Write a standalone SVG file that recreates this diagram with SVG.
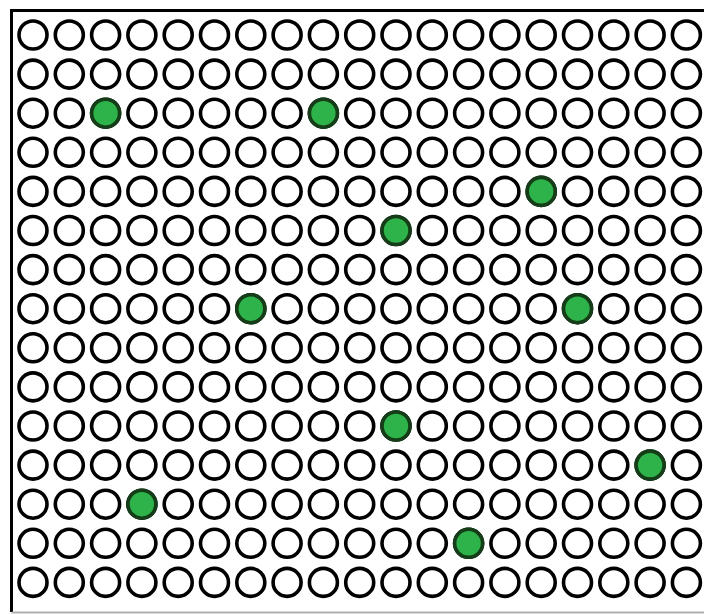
<svg xmlns="http://www.w3.org/2000/svg" xmlns:xlink="http://www.w3.org/1999/xlink" width="704" height="614" viewBox="0 0 704 614">
<style>
.w{fill:#fff;stroke:#000;stroke-width:3.6}
.g{fill:#2db34a;stroke:#143d18;stroke-width:3.6}
</style>
<defs>
<circle id="c" class="w" cx="0" cy="0" r="14"/>
<circle id="k" class="g" cx="0" cy="0" r="14"/>
<g id="row">
<use href="#c" x="33"/><use href="#c" x="69.3"/><use href="#c" x="105.6"/><use href="#c" x="141.9"/><use href="#c" x="178.2"/><use href="#c" x="214.5"/><use href="#c" x="250.8"/><use href="#c" x="287.1"/><use href="#c" x="323.4"/><use href="#c" x="359.7"/><use href="#c" x="396"/><use href="#c" x="432.3"/><use href="#c" x="468.6"/><use href="#c" x="504.9"/><use href="#c" x="541.2"/><use href="#c" x="577.5"/><use href="#c" x="613.8"/><use href="#c" x="650.1"/><use href="#c" x="686.4"/>
</g>
</defs>
<rect x="0" y="0" width="704" height="614" fill="#fff"/>
<g id="frame" fill="none">
<path d="M11.5 10.5 H704 M11.5 9 V612" stroke="#000" stroke-width="3"/>
<path d="M11.5 612.5 H704" stroke="#b0b0b0" stroke-width="2"/>
</g>
<g id="grid">
<use href="#row" y="35"/>
<use href="#row" y="74.1"/>
<use href="#row" y="113.2"/>
<use href="#row" y="152.3"/>
<use href="#row" y="191.4"/>
<use href="#row" y="230.5"/>
<use href="#row" y="269.6"/>
<use href="#row" y="308.7"/>
<use href="#row" y="347.8"/>
<use href="#row" y="386.9"/>
<use href="#row" y="426"/>
<use href="#row" y="465.1"/>
<use href="#row" y="504.2"/>
<use href="#row" y="543.3"/>
<use href="#row" y="582.4"/>
</g>
<g id="green">
<use href="#k" x="105.6" y="113.2"/>
<use href="#k" x="323.4" y="113.2"/>
<use href="#k" x="541.2" y="191.4"/>
<use href="#k" x="396" y="230.5"/>
<use href="#k" x="250.8" y="308.7"/>
<use href="#k" x="577.5" y="308.7"/>
<use href="#k" x="396" y="426"/>
<use href="#k" x="650.1" y="465.1"/>
<use href="#k" x="141.9" y="504.2"/>
<use href="#k" x="468.6" y="543.3"/>
</g>
</svg>
